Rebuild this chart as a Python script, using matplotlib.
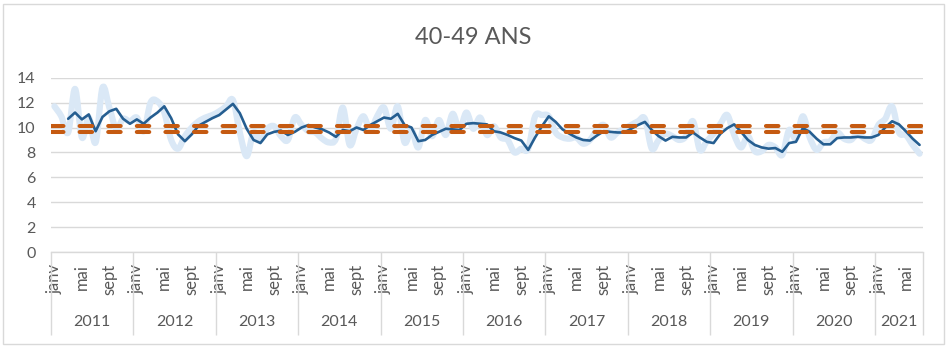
import numpy as np
import matplotlib
matplotlib.use("Agg")
import matplotlib.pyplot as plt
from matplotlib.path import Path
from matplotlib.patches import PathPatch, Rectangle

title = "40-49 ANS"
years = ["2011", "2012", "2013", "2014", "2015", "2016",
         "2017", "2018", "2019", "2020", "2021"]
months_per_year = [12, 12, 12, 12, 12, 12, 12, 12, 12, 12, 7]
month_labels = {0: "janv", 4: "mai", 8: "sept"}

# monthly rate (light blue, smoothed line)
monthly = [
    11.7, 10.9, 9.6, 13.1, 9.2, 10.8, 8.8, 13.2, 11.6, 9.9, 10.7, 10.5,   # 2011
    10.8, 9.7, 12.0, 12.1, 11.2, 9.0, 8.3, 9.3, 10.0, 10.5, 10.8, 11.0,   # 2012
    11.3, 11.7, 12.2, 9.6, 7.7, 9.6, 9.0, 9.9, 10.1, 9.3, 9.0, 10.8,      # 2013
    10.2, 9.7, 9.6, 9.1, 8.8, 9.1, 11.6, 8.6, 9.9, 10.9, 9.8, 10.9,       # 2014
    11.6, 9.9, 11.7, 8.8, 9.8, 8.4, 10.6, 9.3, 10.6, 9.4, 11.1, 9.8,      # 2015
    11.2, 9.9, 10.8, 9.4, 10.1, 9.2, 9.0, 8.0, 8.3, 8.3, 10.9, 11.0,      # 2016
    10.9, 9.6, 9.2, 9.1, 9.2, 8.7, 9.0, 9.8, 10.2, 9.2, 9.6, 9.9,         # 2017
    10.2, 10.5, 10.7, 8.3, 9.0, 9.5, 9.3, 9.0, 9.3, 10.5, 8.2, 8.9,       # 2018
    9.5, 10.3, 11.0, 9.4, 8.4, 9.3, 8.1, 8.1, 8.6, 8.4, 7.8, 9.8,         # 2019
    9.1, 10.9, 9.2, 8.2, 8.8, 8.9, 9.6, 9.1, 9.0, 9.5, 9.1, 9.0,          # 2020
    10.2, 10.7, 11.7, 9.6, 9.4, 8.6, 7.9,                                 # 2021
]

# moving average (dark blue line), starts in March 2011
moving_avg = [
    None, None, 10.7, 11.2, 10.65, 11.05, 9.7, 10.85, 11.3, 11.5, 10.7, 10.3,
    10.65, 10.3, 10.8, 11.2, 11.7, 10.75, 9.45, 8.9, 9.45, 10.15, 10.45, 10.75,
    11.0, 11.45, 11.9, 11.15, 9.9, 9.0, 8.75, 9.45, 9.65, 9.75, 9.4, 9.65,
    10.0, 10.2, 10.0, 9.85, 9.6, 9.25, 9.8, 9.7, 10.0, 9.8, 10.2, 10.5,
    10.8, 10.7, 11.1, 10.2, 10.0, 8.9, 9.0, 9.4, 9.65, 9.9, 9.85, 9.8,
    10.3, 10.35, 10.3, 10.25, 9.7, 9.6, 9.4, 9.15, 8.95, 8.2, 9.2, 10.1,
    10.9, 10.45, 9.85, 9.5, 9.2, 9.0, 8.95, 9.35, 9.7, 9.65, 9.6, 9.6,
    9.9, 10.2, 10.45, 9.8, 9.3, 8.95, 9.25, 9.2, 9.2, 9.6, 9.2, 8.85,
    8.75, 9.5, 9.95, 10.25, 9.65, 9.0, 8.6, 8.4, 8.3, 8.35, 8.05, 8.75,
    8.85, 9.95, 9.65, 9.1, 8.65, 8.65, 9.15, 9.2, 9.2, 9.25, 9.2, 9.2,
    9.4, 10.0, 10.5, 10.25, 9.7, 9.1, 8.6,
]

ref_high = 10.1
ref_low = 9.6
y_ticks = [0, 2, 4, 6, 8, 10, 12, 14]

GRID = "#D9D9D9"
TEXT = "#595959"
LIGHT = "#DAE8F6"
DARK = "#255E91"
ORANGE = "#C55A11"
FONT = ["Lato", "DejaVu Sans"]

plt.rcParams["font.family"] = FONT

fig = plt.figure(figsize=(9.47, 3.46), dpi=100)
fig.patch.set_facecolor("white")
fig.patches.append(Rectangle((2.5 / 947, 2.5 / 346), 941 / 947, 340 / 346,
                             transform=fig.transFigure, fill=False,
                             edgecolor=GRID, linewidth=1.0))

ax = fig.add_axes([51 / 947, 1 - 252 / 346, 872 / 947, 174.3 / 346])
n = len(monthly)
x = np.arange(n)

# smoothed light line (Catmull-Rom converted to cubic Bezier segments)
pts = np.column_stack([x, np.array(monthly, dtype=float)])
verts = [tuple(pts[0])]
codes = [Path.MOVETO]
for i in range(n - 1):
    p0 = pts[i - 1] if i > 0 else pts[i]
    p1 = pts[i]
    p2 = pts[i + 1]
    p3 = pts[i + 2] if i + 2 < n else pts[i + 1]
    c1 = p1 + (p2 - p0) / 6.0
    c2 = p2 - (p3 - p1) / 6.0
    verts += [tuple(c1), tuple(c2), tuple(p2)]
    codes += [Path.CURVE4] * 3
ax.add_patch(PathPatch(Path(verts, codes), facecolor="none", edgecolor=LIGHT,
                       linewidth=4.5, capstyle="round", joinstyle="round",
                       zorder=2))

ma = np.array([np.nan if v is None else v for v in moving_avg], dtype=float)
ax.plot(x, ma, color=DARK, linewidth=1.9, solid_joinstyle="round",
        solid_capstyle="round", zorder=3)

for yv in (ref_high, ref_low):
    ax.plot([-0.5, n - 0.5], [yv, yv], color=ORANGE, linewidth=2.9,
            dashes=(3.1, 4.0), dash_capstyle="round", zorder=4)

ax.set_xlim(-0.5, n - 0.5)
ax.set_ylim(0, 14)
ax.set_yticks(y_ticks)
ax.set_yticklabels([str(v) for v in y_ticks])
ax.yaxis.grid(True, color=GRID, linewidth=1.0)
ax.set_axisbelow(True)
for s in ("left", "right", "top"):
    ax.spines[s].set_visible(False)
ax.spines["bottom"].set_color(GRID)
ax.spines["bottom"].set_linewidth(1.0)

# month tick labels and year separators
major_pos, major_lab, bounds = [], [], [-0.5]
start = 0
for yr, cnt in zip(years, months_per_year):
    for m in range(cnt):
        if m in month_labels:
            major_pos.append(start + m)
            major_lab.append(month_labels[m])
    start += cnt
    bounds.append(start - 0.5)
ax.set_xticks(major_pos)
ax.set_xticklabels(major_lab, rotation=90, va="top", ha="center")
ax.set_xticks(bounds, minor=True)
ax.tick_params(axis="x", which="major", length=0, pad=8.5, labelsize=12,
               labelcolor=TEXT)
ax.tick_params(axis="x", which="minor", length=60, width=1.0, color=GRID,
               direction="out")
ax.tick_params(axis="y", length=0, pad=11, labelsize=11.5, labelcolor=TEXT)

start = 0
for yr, cnt in zip(years, months_per_year):
    ax.text(start + cnt / 2 - 0.5, -0.40, yr, transform=ax.get_xaxis_transform(),
            ha="center", va="center", fontsize=11.5, color=TEXT)
    start += cnt

fig.text(0.5, 1 - 37 / 346, title, ha="center", va="center", fontsize=17,
         color=TEXT)

fig.savefig("out.png", dpi=100, facecolor="white")
